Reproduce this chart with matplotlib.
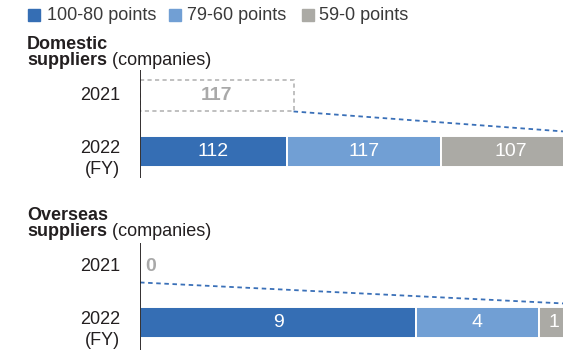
import matplotlib
matplotlib.use("Agg")
import matplotlib.pyplot as plt
from matplotlib.patches import Rectangle

plt.rcParams['font.family'] = ['Liberation Sans', 'DejaVu Sans']

# --- data ---
SERIES = ["100-80 points", "79-60 points", "59-0 points"]
DOMESTIC_2021 = 117
DOMESTIC_2022 = [112, 117, 107]
OVERSEAS_2021 = 0
OVERSEAS_2022 = [9, 4, 1]
YEARS = ["2021", "2022"]

C_DARK = "#356eb4"
C_LIGHT = "#719fd4"
C_GREY = "#abaaa5"
COLORS = [C_DARK, C_LIGHT, C_GREY]
C_TEXT = "#231f20"
C_OLD = "#a9a9a9"
C_LINE = "#3a70b8"

W, H = 563, 354
fig = plt.figure(figsize=(W / 100, H / 100), dpi=100)


def fx(px):
    return px / W


def fy(py):
    return 1 - py / H


BAR_H = 0.57


def panel(top, bottom, c0, xmax, val_old, vals_new):
    # axes spans pixel rows top..bottom, category centres at c0 and c0+56
    y_top = (top - c0) / 56.0
    y_bot = (bottom - c0) / 56.0
    ax = fig.add_axes([fx(140), fy(bottom), 1 - fx(140), (bottom - top) / H])
    ax.set_xlim(0, xmax)
    ax.set_ylim(y_bot, y_top)
    ax.axis("off")
    ax.axvline(0, color=C_TEXT, lw=1.3, zorder=5)

    # 2021 outline
    if val_old > 0:
        ax.add_patch(Rectangle((0, -BAR_H / 2), val_old, BAR_H, fill=False,
                               edgecolor="#b5b5b5", lw=1.2, ls=(0, (2.5, 2))))
        ax.text(val_old / 2, 0, str(val_old), ha="center", va="center",
                fontsize=14, fontweight="bold", color=C_OLD)
    else:
        ax.annotate(str(val_old), xy=(0, 0), xytext=(4, 0), textcoords="offset points",
                    ha="left", va="center", fontsize=14, fontweight="bold", color=C_OLD)

    # 2022 stacked bars
    left = 0
    for v, c in zip(vals_new, COLORS):
        ax.barh(1, v, left=left, height=BAR_H, color=c, edgecolor="white", lw=1.4)
        ax.text(left + v / 2, 1, str(v), ha="center", va="center",
                fontsize=14, color="white")
        left += v

    ax.plot([val_old, left], [BAR_H / 2, 1 - BAR_H / 2 - 0.05], color=C_LINE, lw=1.3,
            ls=(0, (2.5, 2)), clip_on=True)

    # year labels
    tr = ax.get_yaxis_transform()
    ax.annotate(YEARS[0], xy=(0, 0), xycoords=tr, xytext=(-14.5, 0),
                textcoords="offset points", ha="right", va="center",
                fontsize=13, color=C_TEXT, annotation_clip=False)
    ax.annotate(YEARS[1], xy=(0, 1), xycoords=tr, xytext=(-14.5, 2),
                textcoords="offset points", ha="right", va="center",
                fontsize=13, color=C_TEXT, annotation_clip=False)
    ax.annotate("(FY)", xy=(0, 1), xycoords=tr, xytext=(-14.5, -13),
                textcoords="offset points", ha="right", va="center",
                fontsize=13, color=C_TEXT, annotation_clip=False)
    return ax


def title(text, y1, y2):
    fig.text(fx(27), fy(y1), text, fontsize=13, fontweight="bold",
             color=C_TEXT, va="baseline")
    t = fig.text(fx(27), fy(y2), "suppliers", fontsize=13, fontweight="bold",
                 color=C_TEXT, va="baseline")
    r = fig.canvas.get_renderer()
    bb = t.get_window_extent(renderer=r)
    fig.text(bb.x1 / W, fy(y2), " (companies)", fontsize=13,
             color=C_TEXT, va="baseline")


# legend
legend_sq = [28, 169, 302]
legend_tx = [47, 187, 319]
for sx, tx, lab, c in zip(legend_sq, legend_tx, SERIES, COLORS):
    fig.patches.append(Rectangle((fx(sx), fy(21)), fx(12), 12 / H, color=c,
                                 transform=fig.transFigure, figure=fig))
    fig.text(fx(tx), fy(20.5), lab, fontsize=13, color="#3a3a3a",
             va="baseline")

title("Domestic", 49, 65)
panel(70, 178, 95.5, 423 / 1.3125, DOMESTIC_2021, DOMESTIC_2022)

title("Overseas", 220, 236)
panel(243, 350, 266.5, 423 / 30.67, OVERSEAS_2021, OVERSEAS_2022)

fig.savefig("out.png", dpi=100)
